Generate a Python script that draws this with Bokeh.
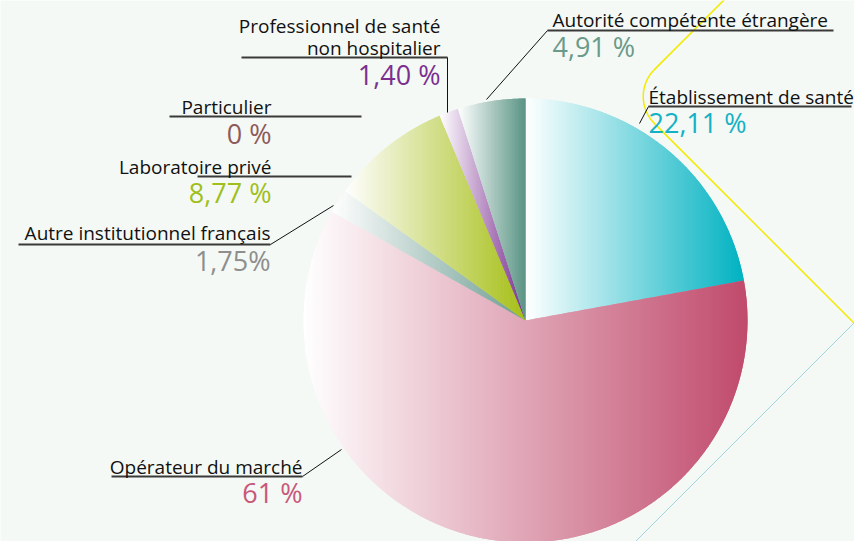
import numpy as np
from bokeh.plotting import figure
from bokeh.models import Range1d
from bokeh.core.properties import value
from bokeh.embed import file_html
from bokeh.resources import INLINE

# ---------------- data ----------------
categories = [
    "Établissement de santé",
    "Opérateur du marché",
    "Autre institutionnel français",
    "Laboratoire privé",
    "Particulier",
    "Professionnel de santé non hospitalier",
    "Autorité compétente étrangère",
]
values = [22.11, 61.0, 1.75, 8.77, 0.0, 1.40, 4.91]
value_labels = ["22,11 %", "61 %", "1,75%", "8,77 %", "0 %", "1,40 %", "4,91 %"]
label_lines = [
    ["Établissement de santé"],
    ["Opérateur du marché"],
    ["Autre institutionnel français"],
    ["Laboratoire privé"],
    ["Particulier"],
    ["Professionnel de santé", "non hospitalier"],
    ["Autorité compétente étrangère"],
]

# ---------------- style ----------------
slice_colors = ["#00b2c1", "#c04a6c", "#6e9d92", "#a6bf16", "#8e5a5a", "#7b2f90", "#5a9484"]
value_colors = ["#14b1c4", "#c8587a", "#8e8e8e", "#9fbf1c", "#8e5a5a", "#7b2f8f", "#6a9a89"]
BG = "#f4f9f5"
FONT = "Open Sans"
CX, CY, R = 525.0, 320.0, 222.0
STRIP = 1.5
TXT_DY = -6  # baseline correction

# label layout (reference pixel positions)
layout = [
    dict(align="left", x=648, y_lines=[102], y_val=128, ul=(648, 851, 106), leader=[(648, 106), (639, 123)]),
    dict(align="right", x=302, y_lines=[472], y_val=498, ul=(111, 302, 476), leader=[(302, 476), (341, 449)]),
    dict(align="right", x=270, y_lines=[238], y_val=266, ul=(18, 270, 244), leader=[(270, 244), (333, 205)]),
    dict(align="right", x=271, y_lines=[172], y_val=198, ul=(197, 351, 176), leader=None),
    dict(align="right", x=271, y_lines=[112], y_val=139, ul=(169, 361, 116), leader=None),
    dict(align="right", x=440, y_lines=[31, 53], y_val=80, ul=(241, 447, 57), leader=[(447, 57), (447, 112)]),
    dict(align="left", x=552, y_lines=[25], y_val=52, ul=(547, 833, 30), leader=[(547, 30), (486, 99)]),
]

W, H = 854, 541
p = figure(width=W, height=H, output_backend="svg", toolbar_location=None,
           x_range=Range1d(0, W), y_range=Range1d(H, 0),
           min_border=0, background_fill_color=BG, border_fill_color=BG)
p.axis.visible = False
p.grid.visible = False
p.outline_line_color = None

# ---------------- decorative lines ----------------
corner = np.array([627.0, 96.0])
rc = 38.0
arc_c = corner + np.array([rc * np.sqrt(2), 0.0])
t = np.radians(np.linspace(225, 135, 40))
arc_x = arc_c[0] + rc * np.cos(t)
arc_y = arc_c[1] + rc * np.sin(t)
yx = np.concatenate([[733.0], arc_x, [870.0]])
yy = np.concatenate([[-10.0], arc_y, [870.0 - 531.0]])
p.line(yx, yy, line_color="#f2ea00", line_width=1.5)
p.line([870, 620], [1176 - 870, 1176 - 620], line_color="#9fd6dc", line_width=1)

# ---------------- pie with horizontal gradients ----------------
def clip_poly(xs, ys, xmin, xmax):
    pts = list(zip(xs, ys))
    def clip(points, inside, inter):
        out = []
        n = len(points)
        for i in range(n):
            cur = points[i]
            prev = points[i - 1]
            if inside(cur):
                if not inside(prev):
                    out.append(inter(prev, cur))
                out.append(cur)
            elif inside(prev):
                out.append(inter(prev, cur))
        return out
    def ix(a, b, xv):
        tt = (xv - a[0]) / (b[0] - a[0])
        return (xv, a[1] + tt * (b[1] - a[1]))
    pts = clip(pts, lambda q: q[0] >= xmin, lambda a, b: ix(a, b, xmin))
    if len(pts) < 3:
        return None
    pts = clip(pts, lambda q: q[0] <= xmax, lambda a, b: ix(a, b, xmax))
    if len(pts) < 3:
        return None
    return [q[0] for q in pts], [q[1] for q in pts]

def hex_to_rgb(h):
    h = h.lstrip("#")
    return np.array([int(h[i:i + 2], 16) for i in (0, 2, 4)], dtype=float)

total = sum(values)
px_xs, px_ys, px_cols = [], [], []
angle = 90.0
white = np.array([255.0, 255.0, 255.0])
for val, col in zip(values, slice_colors):
    span = 360.0 * val / total
    a0, a1 = angle, angle - span
    angle = a1
    if span <= 0:
        continue
    th = np.radians(np.linspace(a0, a1, max(10, int(span * 2))))
    xs = np.concatenate([[CX], CX + R * np.cos(th)])
    ys = np.concatenate([[CY], CY - R * np.sin(th)])
    xmin, xmax = xs.min(), xs.max()
    crgb = hex_to_rgb(col)
    b0 = xmin
    while b0 < xmax:
        b1 = min(b0 + 2 * STRIP, xmax)
        tt = (min(b0 + STRIP / 2, xmax) - xmin) / (xmax - xmin)
        rgb = white + (crgb - white) * tt
        hc = "#%02x%02x%02x" % tuple(int(round(v)) for v in rgb)
        res = clip_poly(xs, ys, b0, b1)
        if res is not None:
            px_xs.append(res[0])
            px_ys.append(res[1])
            px_cols.append(hc)
        b0 += STRIP

p.patches(px_xs, px_ys, fill_color=px_cols, line_color=None)

# ---------------- labels ----------------
for lines, vlab, vcol, lay in zip(label_lines, value_labels, value_colors, layout):
    x0, x1, yu = lay["ul"]
    p.line([x0, x1], [yu, yu], line_color="#3a3a3a", line_width=1.8)
    if lay["leader"]:
        lx = [q[0] for q in lay["leader"]]
        ly = [q[1] for q in lay["leader"]]
        p.line(lx, ly, line_color="#111111", line_width=1)
    p.text(x=[lay["x"]] * len(lines), y=[v + TXT_DY for v in lay["y_lines"]], text=lines,
           text_font=value(FONT), text_font_size="19px", text_color="#111111",
           text_align=lay["align"], text_baseline="alphabetic")
    p.text(x=[lay["x"]], y=[lay["y_val"] + TXT_DY], text=[vlab],
           text_font=value(FONT), text_font_size="27px", text_color=vcol,
           text_align=lay["align"], text_baseline="alphabetic")

open("out.html", "w").write(file_html(p, INLINE))
